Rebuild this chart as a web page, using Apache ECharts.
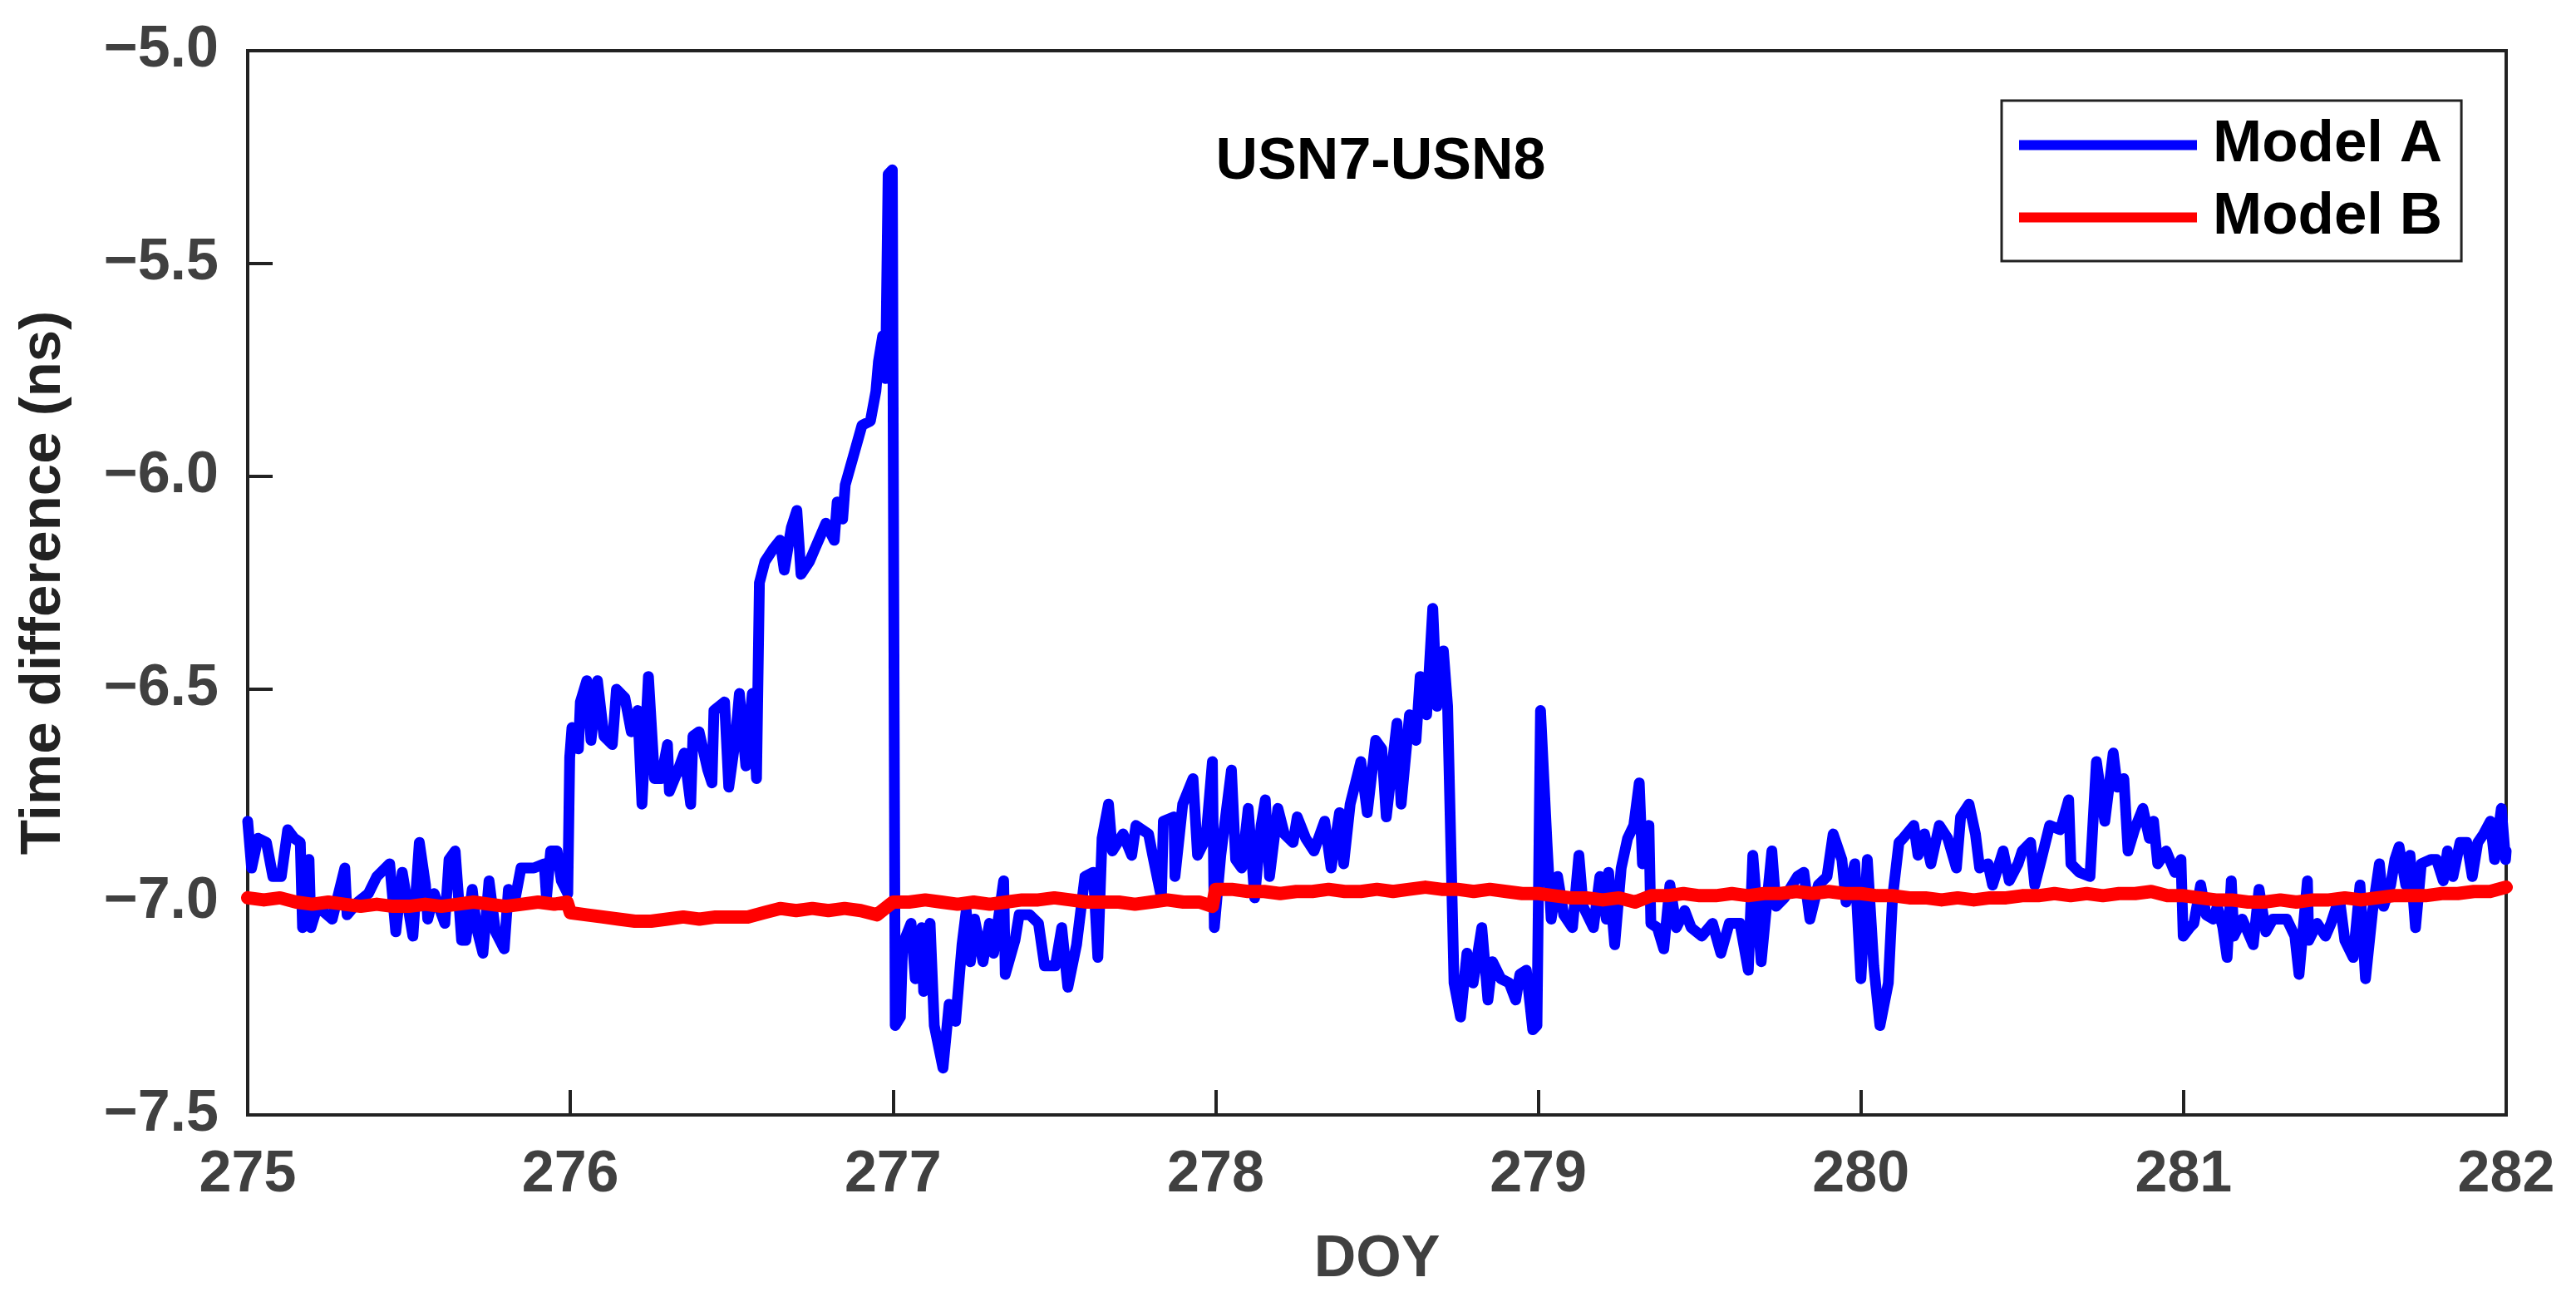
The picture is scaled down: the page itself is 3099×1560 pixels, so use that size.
<!DOCTYPE html>
<html>
<head>
<meta charset="utf-8">
<script src="https://cdn.jsdelivr.net/npm/echarts@6/dist/echarts.min.js"></script>
<style>
html,body{margin:0;padding:0;background:#fff;}
#chart{width:3099px;height:1560px;}
</style>
</head>
<body>
<div id="chart"></div>
<script>
const titleText = 'USN7-USN8';
const xTicks = [275, 276, 277, 278, 279, 280, 281, 282];
const yTicks = [-7.5, -7.0, -6.5, -6.0, -5.5, -5.0];

const modelA_doy = [
275.000,275.012,275.032,275.058,275.078,275.104,275.124,275.144,275.163,275.170,275.190,275.196,275.216,275.262,275.301,275.308,275.341,275.374,275.400,275.440,275.459,275.479,275.512,275.532,275.551,275.558,275.578,275.611,275.624,275.643,275.663,275.676,275.696,275.709,275.729,275.748,275.768,275.795,275.808,275.827,275.847,275.887,275.919,275.926,275.939,275.959,275.972,275.992,275.998,
276.005,276.025,276.031,276.051,276.064,276.084,276.104,276.130,276.143,276.169,276.189,276.209,276.222,276.242,276.261,276.281,276.301,276.307,276.334,276.353,276.373,276.380,276.399,276.426,276.439,276.445,276.478,276.491,276.511,276.524,276.544,276.564,276.577,
276.586,276.603,276.629,276.650,276.663,276.685,276.702,276.715,276.741,276.758,276.792,276.818,276.827,276.844,276.852,276.878,276.904,276.930,276.947,276.955,276.968,276.977,276.985,276.998,277.007,
277.023,277.030,277.056,277.069,277.089,277.095,277.115,277.128,277.155,277.174,277.194,277.214,277.227,277.240,277.253,277.279,277.299,277.312,277.343,277.348,277.378,277.391,277.424,277.451,277.470,277.503,277.523,277.542,277.569,277.595,277.621,277.635,277.648,277.668,277.680,277.713,277.740,277.753,277.792,277.805,277.832,277.838,277.871,277.874,277.898,277.930,277.944,277.970,277.990,277.996,
278.016,278.049,278.062,278.081,278.101,278.121,278.141,278.154,278.167,278.193,278.213,278.240,278.253,278.279,278.305,278.338,278.358,278.384,278.397,278.417,278.450,278.470,278.496,278.515,278.529,278.562,278.575,278.601,278.621,278.634,278.654,278.673,278.686,278.706,278.719,278.739,278.759,278.779,278.798,278.825,278.844,278.858,278.884,278.910,278.930,278.943,278.963,278.983,278.996,
279.007,279.027,279.040,279.060,279.079,279.106,279.126,279.139,279.171,279.191,279.211,279.218,279.237,279.257,279.277,279.296,279.313,279.323,279.343,279.349,279.369,279.389,279.408,279.428,279.454,279.474,279.507,279.540,279.566,279.592,279.625,279.651,279.665,279.691,279.724,279.737,279.763,279.803,279.823,279.842,279.868,279.895,279.914,279.941,279.954,279.981,
280.000,280.020,280.040,280.059,280.085,280.098,280.118,280.131,280.164,280.177,280.197,280.217,280.243,280.269,280.296,280.309,280.335,280.355,280.368,280.394,280.408,280.441,280.460,280.487,280.500,280.526,280.539,280.559,280.585,280.618,280.644,280.651,280.677,280.710,280.730,280.756,280.782,280.795,280.815,280.828,280.848,280.874,280.894,280.907,280.920,280.946,280.973,280.992,280.999,
281.019,281.032,281.053,281.070,281.092,281.105,281.122,281.135,281.148,281.156,281.182,281.216,281.234,281.255,281.277,281.320,281.345,281.358,281.384,281.388,281.414,281.440,281.457,281.483,281.500,281.526,281.547,281.564,281.586,281.607,281.620,281.642,281.655,281.668,281.689,281.702,281.719,281.737,281.767,281.784,281.805,281.818,281.835,281.857,281.878,281.895,281.912,281.930,281.951,281.964,281.985,281.998,282.000
];
const modelA_ns = [
-6.81,-6.92,-6.85,-6.86,-6.94,-6.94,-6.83,-6.85,-6.86,-7.06,-6.90,-7.06,-7.01,-7.04,-6.92,-7.03,-7.00,-6.98,-6.94,-6.91,-7.07,-6.93,-7.08,-6.86,-6.96,-7.04,-6.98,-7.05,-6.90,-6.88,-7.09,-7.09,-6.97,-7.06,-7.12,-6.95,-7.07,-7.11,-6.97,-7.00,-6.92,-6.92,-6.91,-6.99,-6.88,-6.88,-6.95,-6.98,-6.66,
-6.59,-6.64,-6.53,-6.48,-6.62,-6.48,-6.61,-6.63,-6.50,-6.52,-6.60,-6.55,-6.77,-6.47,-6.71,-6.71,-6.63,-6.74,-6.69,-6.65,-6.77,-6.61,-6.60,-6.69,-6.72,-6.55,-6.53,-6.73,-6.62,-6.51,-6.68,-6.51,-6.71,
-6.25,-6.20,-6.17,-6.15,-6.22,-6.12,-6.08,-6.23,-6.20,-6.17,-6.11,-6.15,-6.06,-6.10,-6.02,-5.95,-5.88,-5.87,-5.80,-5.73,-5.67,-5.77,-5.29,-5.28,-7.29,
-7.27,-7.10,-7.05,-7.18,-7.06,-7.21,-7.05,-7.29,-7.39,-7.24,-7.28,-7.10,-7.02,-7.14,-7.04,-7.14,-7.05,-7.12,-6.95,-7.17,-7.09,-7.03,-7.03,-7.05,-7.15,-7.15,-7.06,-7.20,-7.10,-6.94,-6.93,-7.13,-6.85,-6.77,-6.88,-6.84,-6.89,-6.82,-6.84,-6.89,-6.99,-6.81,-6.80,-6.94,-6.77,-6.71,-6.89,-6.85,-6.67,-7.06,
-6.89,-6.69,-6.90,-6.92,-6.78,-6.99,-6.82,-6.76,-6.94,-6.78,-6.84,-6.86,-6.80,-6.85,-6.88,-6.81,-6.92,-6.79,-6.91,-6.77,-6.67,-6.79,-6.62,-6.64,-6.80,-6.58,-6.77,-6.56,-6.62,-6.47,-6.56,-6.31,-6.54,-6.41,-6.54,-7.19,-7.27,-7.12,-7.19,-7.06,-7.23,-7.14,-7.18,-7.19,-7.23,-7.17,-7.16,-7.30,-7.29,
-6.55,-6.86,-7.04,-6.94,-7.03,-7.06,-6.89,-7.01,-7.06,-6.94,-7.04,-6.93,-7.10,-6.92,-6.85,-6.82,-6.72,-6.91,-6.82,-7.05,-7.06,-7.11,-6.96,-7.06,-7.02,-7.06,-7.08,-7.05,-7.12,-7.05,-7.05,-7.16,-6.89,-7.14,-6.88,-7.01,-6.99,-6.94,-6.93,-7.04,-6.96,-6.94,-6.84,-6.90,-7.00,-6.91,
-7.18,-6.90,-7.15,-7.29,-7.19,-6.99,-6.86,-6.85,-6.82,-6.89,-6.84,-6.91,-6.82,-6.85,-6.92,-6.80,-6.77,-6.84,-6.92,-6.91,-6.96,-6.88,-6.95,-6.91,-6.88,-6.86,-6.96,-6.90,-6.82,-6.83,-6.76,-6.91,-6.93,-6.94,-6.67,-6.81,-6.65,-6.73,-6.71,-6.88,-6.83,-6.78,-6.85,-6.81,-6.91,-6.88,-6.93,-6.90,-7.08,
-7.06,-7.05,-6.96,-7.03,-7.04,-7.01,-7.06,-7.13,-6.95,-7.08,-7.04,-7.10,-6.97,-7.07,-7.04,-7.04,-7.08,-7.17,-6.95,-7.09,-7.05,-7.08,-7.05,-6.99,-7.09,-7.13,-6.96,-7.18,-7.02,-6.91,-7.01,-6.96,-6.90,-6.87,-6.96,-6.89,-7.06,-6.91,-6.90,-6.90,-6.95,-6.88,-6.94,-6.86,-6.86,-6.94,-6.86,-6.84,-6.81,-6.90,-6.78,-6.90,-6.88
];

const modelB_doy = [
275.00,275.05,275.10,275.15,275.20,275.25,275.30,275.35,275.40,275.45,275.50,275.55,275.60,275.65,275.70,275.75,275.80,275.85,275.90,275.95,275.99,
276.00,276.05,276.10,276.15,276.20,276.25,276.30,276.35,276.40,276.45,276.50,276.55,276.60,276.65,276.70,276.75,276.80,276.85,276.90,276.95,
277.00,277.05,277.10,277.15,277.20,277.25,277.30,277.35,277.40,277.45,277.50,277.55,277.60,277.65,277.70,277.75,277.80,277.85,277.90,277.95,277.99,
278.00,278.05,278.10,278.15,278.20,278.25,278.30,278.35,278.40,278.45,278.50,278.55,278.60,278.65,278.70,278.75,278.80,278.85,278.90,278.95,
279.00,279.05,279.10,279.15,279.20,279.25,279.30,279.35,279.40,279.45,279.50,279.55,279.60,279.65,279.70,279.75,279.80,279.85,279.90,279.95,
280.00,280.05,280.10,280.15,280.20,280.25,280.30,280.35,280.40,280.45,280.50,280.55,280.60,280.65,280.70,280.75,280.80,280.85,280.90,280.95,
281.00,281.05,281.10,281.15,281.20,281.25,281.30,281.35,281.40,281.45,281.50,281.55,281.60,281.65,281.70,281.75,281.80,281.85,281.90,281.95,282.00
];
const modelB_ns = [
-6.990,-6.995,-6.990,-7.000,-7.005,-7.000,-7.005,-7.010,-7.005,-7.010,-7.010,-7.005,-7.010,-7.005,-7.000,-7.005,-7.010,-7.005,-7.000,-7.005,-7.000,
-7.025,-7.030,-7.035,-7.040,-7.045,-7.045,-7.040,-7.035,-7.040,-7.035,-7.035,-7.035,-7.025,-7.015,-7.020,-7.015,-7.020,-7.015,-7.020,-7.030,
-7.000,-7.000,-6.995,-7.000,-7.005,-7.000,-7.005,-7.000,-6.995,-6.995,-6.990,-6.995,-7.000,-7.000,-7.000,-7.005,-7.000,-6.995,-7.000,-7.000,-7.010,
-6.970,-6.970,-6.975,-6.975,-6.980,-6.975,-6.975,-6.970,-6.975,-6.975,-6.970,-6.975,-6.970,-6.965,-6.970,-6.970,-6.975,-6.970,-6.975,-6.980,
-6.980,-6.985,-6.990,-6.990,-6.995,-6.990,-7.000,-6.985,-6.985,-6.980,-6.985,-6.985,-6.980,-6.985,-6.980,-6.980,-6.975,-6.980,-6.975,-6.980,
-6.980,-6.985,-6.985,-6.990,-6.990,-6.995,-6.990,-6.995,-6.990,-6.990,-6.985,-6.985,-6.980,-6.985,-6.980,-6.985,-6.980,-6.980,-6.975,-6.985,
-6.985,-6.990,-6.995,-6.995,-7.000,-7.000,-6.995,-7.000,-6.995,-6.995,-6.990,-6.995,-6.990,-6.985,-6.985,-6.985,-6.980,-6.980,-6.975,-6.975,-6.965
];

const pairs = (xs, ys) => xs.map((x, i) => [x, ys[i]]);
const FONT = "'Liberation Sans', Arial, Helvetica, sans-serif";

const chart = echarts.init(document.getElementById('chart'), null, {renderer: 'canvas'});
chart.setOption({
  animation: false,
  backgroundColor: '#ffffff',
  title: {
    text: titleText,
    left: 1656,
    top: 156,
    textAlign: 'center',
    textStyle: {fontFamily: FONT, fontSize: 70, fontWeight: 'bold', color: '#000000'}
  },
  legend: {
    orient: 'vertical',
    left: 2408,
    top: 121,
    padding: [18, 23, 17, 21],
    itemGap: 16,
    itemWidth: 214,
    itemHeight: 12,
    icon: 'rect',
    borderColor: '#222222',
    borderWidth: 3,
    backgroundColor: '#ffffff',
    textStyle: {fontFamily: FONT, fontSize: 71, fontWeight: 'bold', color: '#000000', padding: [0, 0, 0, 14], lineHeight: 70},
    data: ['Model A', 'Model B']
  },
  grid: {
    left: 298, right: 84, top: 61, bottom: 219,
    show: true, borderColor: '#222222', borderWidth: 4, backgroundColor: 'transparent'
  },
  xAxis: {
    type: 'value',
    min: xTicks[0], max: xTicks[xTicks.length - 1], interval: 1,
    name: 'DOY', nameLocation: 'middle', nameGap: 140,
    nameTextStyle: {fontFamily: FONT, fontSize: 70, fontWeight: 'bold', color: '#404040'},
    axisLine: {show: true, lineStyle: {color: '#222222', width: 4}},
    axisTick: {show: true, inside: true, length: 30, lineStyle: {color: '#222222', width: 4}},
    axisLabel: {margin: 38, fontFamily: FONT, fontSize: 70, fontWeight: 'bold', color: '#404040',
      formatter: v => String(v)},
    splitLine: {show: false}
  },
  yAxis: {
    type: 'value',
    min: yTicks[0], max: yTicks[yTicks.length - 1], interval: 0.5,
    name: 'Time difference (ns)', nameLocation: 'middle', nameGap: 211,
    nameTextStyle: {fontFamily: FONT, fontSize: 69, fontWeight: 'bold', color: '#222222'},
    axisLine: {show: true, lineStyle: {color: '#222222', width: 4}},
    axisTick: {show: true, inside: true, length: 30, lineStyle: {color: '#222222', width: 4}},
    axisLabel: {margin: 35, fontFamily: FONT, fontSize: 70, fontWeight: 'bold', color: '#404040',
      formatter: v => (v < 0 ? '\u2212' : '') + Math.abs(v).toFixed(1)},
    splitLine: {show: false}
  },
  series: [
    {
      name: 'Model A', type: 'line', data: pairs(modelA_doy, modelA_ns),
      showSymbol: false, symbol: 'none', color: '#0000ff',
      lineStyle: {color: '#0000ff', width: 13, cap: 'round', join: 'round'},
      clip: true
    },
    {
      name: 'Model B', type: 'line', data: pairs(modelB_doy, modelB_ns),
      showSymbol: false, symbol: 'none', color: '#ff0000',
      lineStyle: {color: '#ff0000', width: 16, cap: 'round', join: 'round'},
      clip: true
    }
  ]
});
</script>
</body>
</html>
